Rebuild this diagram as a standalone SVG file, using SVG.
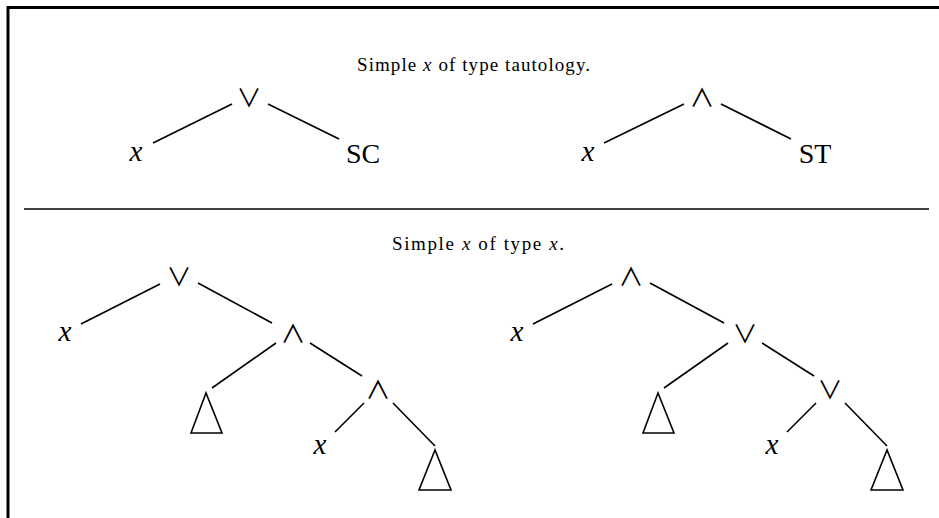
<svg xmlns="http://www.w3.org/2000/svg" width="939" height="518" viewBox="0 0 939 518">
<style>
  .frame{fill:none;stroke:#000;stroke-width:3}
  .sep{fill:none;stroke:#000;stroke-width:1.4}
  .edge{fill:none;stroke:#000;stroke-width:1.6}
  .tri{fill:none;stroke:#000;stroke-width:1.6;stroke-linejoin:miter}
  .title{font-family:"Liberation Serif","DejaVu Serif",serif;font-size:19px;fill:#000}
  .it{font-style:italic}
  .op{font-family:"Noto Sans CJK JP","DejaVu Sans",sans-serif;font-size:25px;fill:#000;text-anchor:middle;dominant-baseline:central}
  .lbl{font-family:"Liberation Serif","DejaVu Serif",serif;font-size:28px;fill:#000;text-anchor:middle;dominant-baseline:central}
  .var{font-style:italic;font-size:29px}
</style>
<rect width="939" height="518" fill="#fff"/>
<polyline class="frame" points="8,518 8,7.5 939,7.5"/>
<line class="sep" x1="24" y1="209" x2="929" y2="209"/>

<text class="title" x="357" y="71" textLength="233" lengthAdjust="spacing">Simple <tspan class="it">x</tspan> of type tautology.</text>
<text class="title" x="392" y="250" textLength="172" lengthAdjust="spacing">Simple <tspan class="it">x</tspan> of type <tspan class="it">x</tspan>.</text>

<g id="connectors">
  <line class="edge" x1="153" y1="143" x2="232" y2="104"/>
  <line class="edge" x1="268" y1="104" x2="339" y2="139"/>
  <line class="edge" x1="604" y1="143" x2="684" y2="104"/>
  <line class="edge" x1="721" y1="104" x2="791" y2="139"/>

  <line class="edge" x1="81" y1="324" x2="160" y2="284"/>
  <line class="edge" x1="198" y1="283" x2="272" y2="323"/>
  <line class="edge" x1="276" y1="343" x2="212" y2="388"/>
  <line class="edge" x1="310" y1="343" x2="362" y2="376"/>
  <line class="edge" x1="364" y1="403" x2="335" y2="432"/>
  <line class="edge" x1="393" y1="403" x2="435" y2="446"/>

  <line class="edge" x1="533" y1="324" x2="612" y2="284"/>
  <line class="edge" x1="650" y1="283" x2="724" y2="323"/>
  <line class="edge" x1="728" y1="343" x2="664" y2="388"/>
  <line class="edge" x1="762" y1="343" x2="814" y2="376"/>
  <line class="edge" x1="816" y1="403" x2="787" y2="432"/>
  <line class="edge" x1="845" y1="403" x2="887" y2="446"/>
</g>

<g id="t1-or"><text class="op" x="249" y="96">∨</text></g>
<g id="t1-x"><text class="lbl var" x="136" y="151">x</text></g>
<g id="t1-sc"><text class="lbl" x="363" y="153">SC</text></g>

<g id="t2-and"><text class="op" x="702" y="96">∧</text></g>
<g id="t2-x"><text class="lbl var" x="588" y="151">x</text></g>
<g id="t2-st"><text class="lbl" x="815" y="153">ST</text></g>

<g id="t3-or"><text class="op" x="179" y="275">∨</text></g>
<g id="t3-x"><text class="lbl var" x="65" y="331">x</text></g>
<g id="t3-and1"><text class="op" x="293" y="332">∧</text></g>
<g id="t3-tri1"><polygon class="tri" points="206,393 191,433 222,433"/></g>
<g id="t3-and2"><text class="op" x="378" y="388">∧</text></g>
<g id="t3-x2"><text class="lbl var" x="320" y="444">x</text></g>
<g id="t3-tri2"><polygon class="tri" points="435,450 419,490 451,490"/></g>

<g id="t4-and"><text class="op" x="631" y="275">∧</text></g>
<g id="t4-x"><text class="lbl var" x="517" y="331">x</text></g>
<g id="t4-or1"><text class="op" x="745" y="332">∨</text></g>
<g id="t4-tri1"><polygon class="tri" points="658,393 643,433 674,433"/></g>
<g id="t4-or2"><text class="op" x="830" y="388">∨</text></g>
<g id="t4-x2"><text class="lbl var" x="772" y="444">x</text></g>
<g id="t4-tri2"><polygon class="tri" points="887,450 871,490 903,490"/></g>
</svg>
